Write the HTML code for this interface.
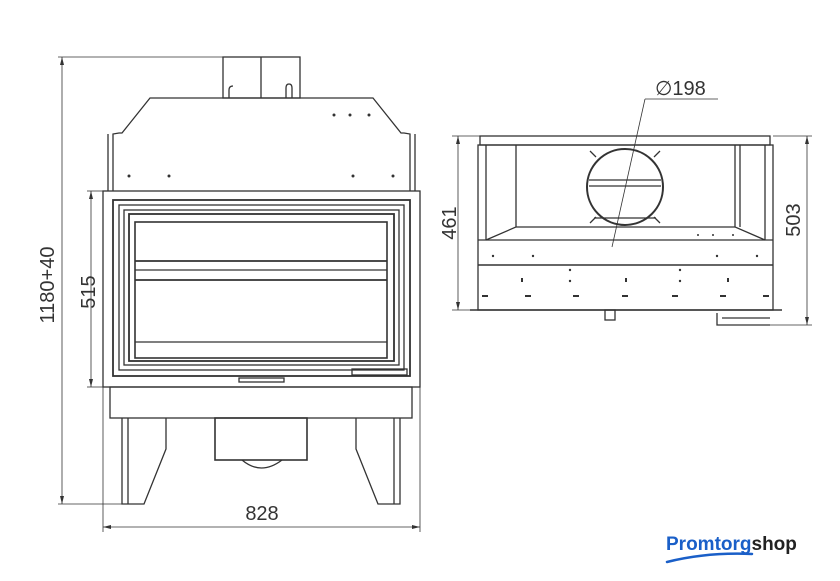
<!DOCTYPE html>
<html><head><meta charset="utf-8"><style>body{margin:0;background:#fff}svg{display:block}</style></head>
<body>
<svg width="840" height="581" viewBox="0 0 840 581" xmlns="http://www.w3.org/2000/svg" font-family="Liberation Sans, sans-serif">
<g fill="none" stroke="#333" stroke-width="1.3">
<!-- dims front -->
<line x1="58" y1="57" x2="300" y2="57" stroke-width="0.8"/>
<line x1="62" y1="57" x2="62" y2="504" stroke-width="0.8"/>
<line x1="58" y1="504" x2="140" y2="504" stroke-width="0.8"/>
<line x1="87" y1="191" x2="103" y2="191" stroke-width="0.8"/>
<line x1="87" y1="387" x2="103" y2="387" stroke-width="0.8"/>
<line x1="91" y1="191" x2="91" y2="387" stroke-width="0.8"/>
<line x1="103" y1="387" x2="103" y2="532" stroke-width="0.8"/>
<line x1="420" y1="387" x2="420" y2="532" stroke-width="0.8"/>
<line x1="103" y1="527" x2="420" y2="527" stroke-width="0.8"/>
<!-- chimney -->
<rect x="223" y="57" width="77" height="41"/>
<line x1="261" y1="57" x2="261" y2="98"/>
<path d="M229 98v-8q0-4 4-4M286 98v-10q0-4 3-4t3 4v10"/>
<!-- hood -->
<path d="M113 191V134l6-1h3l28-35h223l28 35h3l6 1v57"/>
<line x1="108" y1="134" x2="108" y2="191"/>
<line x1="415" y1="134" x2="415" y2="191"/>
<!-- frame -->
<rect x="103" y="191" width="317" height="196"/>
<rect x="113" y="200" width="297" height="176" stroke-width="1.8"/>
<rect x="119" y="205" width="285" height="165"/>
<rect x="124" y="210" width="275" height="155"/>
<rect x="129" y="214" width="265" height="147" stroke-width="1.8"/>
<rect x="135" y="222" width="252" height="136" stroke-width="1.6"/>
<line x1="135" y1="261" x2="387" y2="261" stroke-width="1.8"/>
<line x1="135" y1="270" x2="387" y2="270"/>
<line x1="135" y1="280" x2="387" y2="280" stroke-width="1.8"/>
<line x1="135" y1="342" x2="387" y2="342"/>
<rect x="239" y="378" width="45" height="4"/>
<rect x="352" y="369" width="55" height="6"/>
<!-- base -->
<rect x="110" y="387" width="302" height="31"/>
<path d="M122 418v86h22l22-55v-31M128 418v86"/>
<path d="M400 418v86h-22l-22-55v-31M394 418v86"/>
<rect x="215" y="418" width="92" height="42" stroke-width="1.6"/>
<path d="M242 460q19 16 40 0"/>
<!-- side view -->
<rect x="480" y="136" width="290" height="9"/>
<rect x="478" y="145" width="295" height="165"/>
<path d="M486 145v95M516 145v82l-30 13M735 145v82l30 13M765 145v95M740 145v82"/>
<line x1="516" y1="227" x2="735" y2="227"/>
<line x1="478" y1="240" x2="773" y2="240"/>
<line x1="478" y1="265" x2="773" y2="265" stroke-width="1.6"/>
<line x1="470" y1="310" x2="782" y2="310" stroke-width="1.6"/>
<circle cx="625" cy="187" r="38" stroke-width="2"/>
<path d="M589 180h72M589 186h72M594 218h62"/>
<path d="M596 157l-6-6M654 157l6-6M596 217l-6 6M654 217l6 6"/>
<line x1="645" y1="99" x2="612" y2="247" stroke-width="0.8"/>
<line x1="645" y1="99" x2="718" y2="99" stroke-width="0.8"/>
<rect x="605" y="310" width="10" height="10"/>
<path d="M717 313v12h53M722 318h48"/>
<!-- side dims -->
<line x1="452" y1="136" x2="480" y2="136" stroke-width="0.8"/>
<line x1="452" y1="310" x2="478" y2="310" stroke-width="0.8"/>
<line x1="458" y1="136" x2="458" y2="310" stroke-width="0.8"/>
<line x1="773" y1="136" x2="812" y2="136" stroke-width="0.8"/>
<line x1="770" y1="325" x2="812" y2="325" stroke-width="0.8"/>
<line x1="807" y1="136" x2="807" y2="325" stroke-width="0.8"/>
</g>
<g fill="#333">
<path d="M62 57l-2 8h4zM62 504l-2-8h4zM91 191l-2 8h4zM91 387l-2-8h4zM103 527l8-2v4zM420 527l-8-2v4zM458 136l-2 8h4zM458 310l-2-8h4zM807 136l-2 8h4zM807 325l-2-8h4z"/>
<circle cx="334" cy="115" r="1.5"/><circle cx="350" cy="115" r="1.5"/><circle cx="369" cy="115" r="1.5"/>
<circle cx="129" cy="176" r="1.5"/><circle cx="169" cy="176" r="1.5"/><circle cx="353" cy="176" r="1.5"/><circle cx="393" cy="176" r="1.5"/>
<circle cx="493" cy="256" r="1.2"/><circle cx="533" cy="256" r="1.2"/><circle cx="717" cy="256" r="1.2"/><circle cx="757" cy="256" r="1.2"/>
<circle cx="698" cy="235" r="1"/><circle cx="713" cy="235" r="1"/><circle cx="733" cy="235" r="1"/>
<circle cx="570" cy="270" r="1.2"/><circle cx="680" cy="270" r="1.2"/><circle cx="570" cy="281" r="1.2"/><circle cx="680" cy="281" r="1.2"/>
<rect x="521" y="278" width="2" height="4"/><rect x="625" y="278" width="2" height="4"/><rect x="727" y="278" width="2" height="4"/>
<rect x="482" y="295" width="6" height="2"/><rect x="525" y="295" width="6" height="2"/><rect x="573" y="295" width="6" height="2"/><rect x="622" y="295" width="6" height="2"/><rect x="672" y="295" width="6" height="2"/><rect x="720" y="295" width="6" height="2"/><rect x="763" y="295" width="6" height="2"/>
</g>
<g fill="#333" font-size="20">
<text x="262" y="520" text-anchor="middle">828</text>
<text transform="translate(54,285) rotate(-90)" text-anchor="middle">1180+40</text>
<text transform="translate(95,292) rotate(-90)" text-anchor="middle">515</text>
<text transform="translate(456,223) rotate(-90)" text-anchor="middle">461</text>
<text transform="translate(800,220) rotate(-90)" text-anchor="middle">503</text>
<text x="655" y="95">∅198</text>
</g>
<text x="666" y="550" font-size="19" font-weight="bold"><tspan fill="#1a5fc8">Promtorg</tspan><tspan fill="#222">shop</tspan></text>
<path d="M667 562q40-10 85-8" fill="none" stroke="#1a5fc8" stroke-width="2.5" stroke-linecap="round"/>
</svg>
</body></html>
